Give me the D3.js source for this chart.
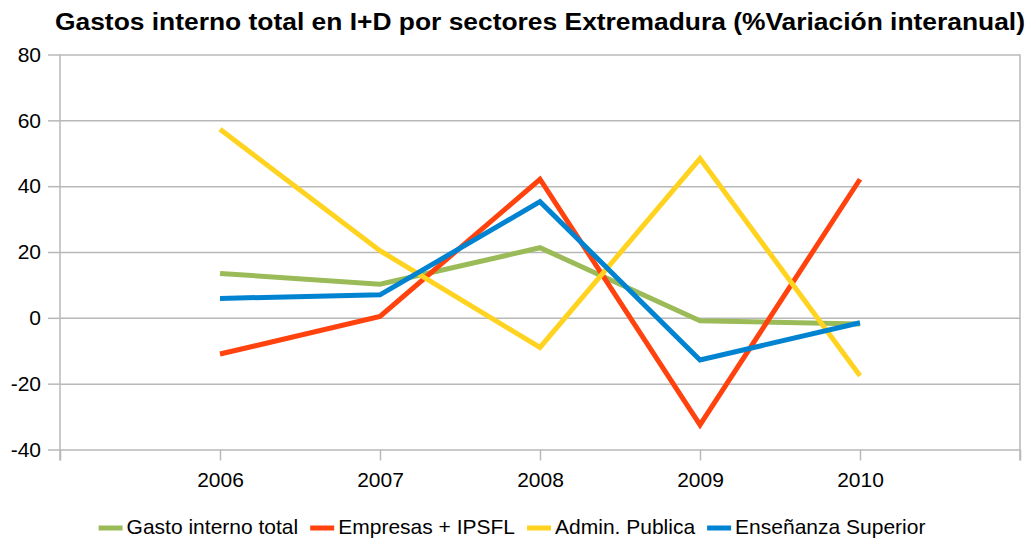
<!DOCTYPE html>
<html>
<head>
<meta charset="utf-8">
<script src="https://d3js.org/d3.v7.min.js"></script>
<style>
    body { margin: 0; background: #fff; }
    text { font-family: "Liberation Sans", Arial, sans-serif; fill: #000; }
    .grid line { stroke: #b8b8b8; stroke-width: 1.5; }
    .axis line { stroke: #b8b8b8; stroke-width: 1.5; }
    .axis path { display: none; }
    .axis text { font-size: 21px; }
    .line { fill: none; stroke-width: 5; stroke-linejoin: miter; }
</style>
</head>
<body>
<svg></svg>
<script>
var years = [2006, 2007, 2008, 2009, 2010];
var yTicks = [-40, -20, 0, 20, 40, 60, 80];

var seriesNames = ["Gasto interno total", "Empresas + IPSFL", "Admin. Publica", "Enseñanza Superior"];
var seriesColors = ["#9bbb59", "#ff420e", "#ffd320", "#0084d1"];

var gastoTotal = [13.5, 10.2, 21.3, -0.9, -1.9];
var empresas = [-11.0, 0.4, 42.1, -32.5, 42.1];
var adminPublica = [57.3, 20.4, -9.0, 48.4, -17.6];
var ensenanza = [5.9, 7.0, 35.3, -12.8, -1.5];

var seriesValues = [gastoTotal, empresas, adminPublica, ensenanza];

var W = 1030, H = 539;
var margin = { top: 54.5, right: 10, bottom: 89.5, left: 60 },
    width = W - margin.left - margin.right,
    height = H - margin.top - margin.bottom;

var svg = d3.select("svg")
    .attr("width", W)
    .attr("height", H);

var g = svg.append("g")
    .attr("transform", "translate(" + margin.left + "," + margin.top + ")");

// one empty slot either side of the years, like the category axis
var x = d3.scaleLinear()
    .domain([years[0] - 1, years[years.length - 1] + 1])
    .range([0, width]);

var y = d3.scaleLinear()
    .domain([-40, 80])
    .range([height, 0]);

// horizontal gridlines
g.append("g")
    .attr("class", "grid")
    .call(d3.axisLeft(y).tickValues(yTicks).tickSize(-width).tickFormat(""))
    .select(".domain").remove();

// y axis ticks + labels (plain hyphen for negatives)
g.append("g")
    .attr("class", "axis axis--y")
    .call(d3.axisLeft(y).tickValues(yTicks).tickSize(12).tickPadding(7)
        .tickFormat(function(d) { return String(d); }));

// x axis ticks + labels
var allTicks = d3.range(years[0] - 1, years[years.length - 1] + 2);
g.append("g")
    .attr("class", "axis axis--x")
    .attr("transform", "translate(0," + height + ")")
    .call(d3.axisBottom(x).tickValues(allTicks).tickSize(11).tickPadding(12)
        .tickFormat(function(d) { return years.indexOf(d) >= 0 ? d : ""; }));

// axis lines / right edge
g.append("line")
    .attr("x1", 0).attr("x2", 0)
    .attr("y1", 0).attr("y2", height + 11)
    .style("stroke", "#b8b8b8").style("stroke-width", 1.5);

g.append("line")
    .attr("x1", width).attr("x2", width)
    .attr("y1", 0).attr("y2", height + 11)
    .style("stroke", "#b8b8b8").style("stroke-width", 1.5);

var line = d3.line()
    .x(function(d, i) { return x(years[i]); })
    .y(function(d) { return y(d); });

seriesValues.forEach(function(vals, i) {
    g.append("path")
        .datum(vals)
        .attr("class", "line")
        .style("stroke", seriesColors[i])
        .attr("d", line);
});

// title
svg.append("text")
    .attr("x", 55)
    .attr("y", 30)
    .attr("textLength", 970)
    .attr("lengthAdjust", "spacingAndGlyphs")
    .style("font-size", "23px")
    .style("font-weight", "bold")
    .text("Gastos interno total en I+D por sectores Extremadura (%Variación interanual)");

// legend
var legend = svg.append("g").attr("class", "legend");
var lx = 0;
seriesNames.forEach(function(name, i) {
    var item = legend.append("g").attr("transform", "translate(" + lx + ",0)");
    item.append("rect")
        .attr("x", 0)
        .attr("y", -8.5)
        .attr("width", 24)
        .attr("height", 5)
        .style("fill", seriesColors[i]);
    var t = item.append("text")
        .attr("x", 28)
        .attr("y", 0)
        .style("font-size", "21px")
        .text(name);
    lx += 28 + t.node().getComputedTextLength() + 12;
});
var legendWidth = lx - 12;
legend.attr("transform", "translate(" + (512 - legendWidth / 2) + ",534)");
</script>
</body>
</html>
